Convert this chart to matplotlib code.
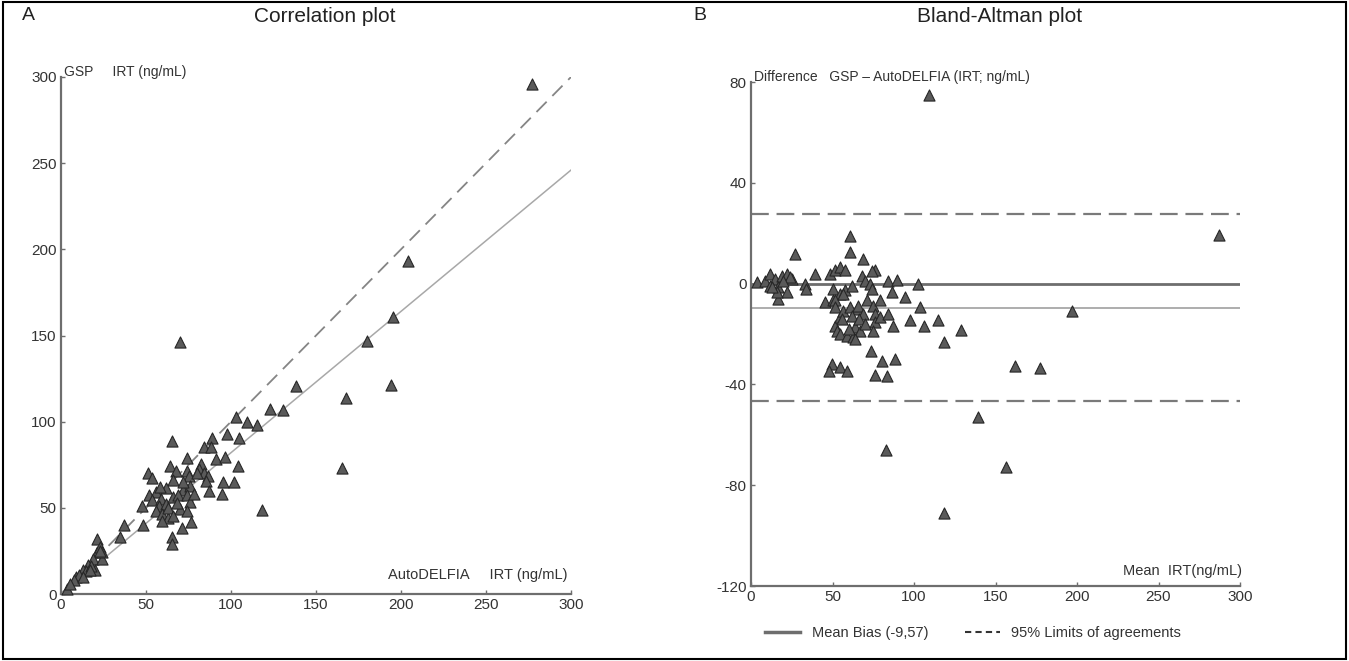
import matplotlib
matplotlib.use('Agg')
import matplotlib.pyplot as plt
from matplotlib.lines import Line2D
from matplotlib.patches import Rectangle

plt.rcParams['font.family'] = ['Liberation Sans Narrow', 'Liberation Sans', 'DejaVu Sans']
plt.rcParams['axes.unicode_minus'] = False

# Panel A: AutoDELFIA vs GSP IRT (ng/mL)
auto_irt = [277, 204, 195, 180, 138.5, 167.7, 194, 123, 130.7, 165, 118, 70,
            103.1, 109.2, 115.4, 65.3, 88.8, 97.6, 104.7, 84.3, 88.4, 74, 91, 96.5,
            64.2, 82.2, 104.3, 67.9, 74, 81.2, 84.3, 86.3, 85.3, 95.5, 102, 51.2,
            53.6, 75.1, 65.9, 55.6, 61.8, 72, 76.1, 87.3, 94.5, 47.5, 51.6, 53.6,
            58.7, 57.7, 61.8, 65.9, 68.9, 74, 76.1, 69.9, 74, 55.6, 59.7, 62.8,
            59.7, 48.5, 71, 76.5, 65.3, 65.3, 37.3, 34.8, 20.9, 20.9, 22.9, 18.8,
            15.8, 12.7, 8.6, 3.5, 14.8, 19.9, 10.7, 17.8, 23.9, 23.9, 7.6, 5.5,
            16.8, 12.7, 22.9, 58, 63, 66, 72, 80, 78, 68]
gsp_irt = [296, 193, 161, 147, 120.7, 113.6, 121, 107.6, 106.6, 73, 49, 146,
           102.6, 99.6, 98.2, 88.9, 90.5, 92.6, 90.5, 85.5, 85.5, 78.9, 78.5, 79.5,
           74.4, 75.5, 74, 71.4, 71.4, 72.4, 70.4, 68.4, 65.4, 64.8, 64.8, 70.4,
           67.4, 68.4, 66.4, 59.4, 61.4, 60.4, 62.4, 60, 57.9, 51.3, 57.3, 54.3,
           55.3, 51.3, 52.3, 56.3, 57.3, 57.3, 53.3, 49.3, 48.3, 48.3, 46.3, 44.3,
           42.3, 40.2, 38.2, 41.9, 33.2, 29.2, 40.2, 33.2, 32.2, 24.1, 27.2, 20.1,
           17.1, 14.1, 10.1, 3, 13.1, 14.1, 11.1, 16.1, 20.1, 24.1, 8, 6,
           14.1, 10, 25.1, 62, 50, 45, 65, 70, 58, 53]
identity_end = 300
regression_slope = 0.82

# Panel B: Bland-Altman, mean vs difference
ba_mean = [3.5, 8.6, 11.7, 14.7, 18.8, 21.9, 25, 11.7, 16.8, 21.9, 16.8, 15.7,
           12.7, 23.9, 19.8, 27, 33, 34, 39, 45.4, 48.5, 51.5, 54.6, 57.7, 60.7,
           60.7, 68.9, 76, 50.5, 54.6, 50.5, 57.7, 61.8, 67.9, 70, 74, 73, 74,
           84.2, 89.4, 86.3, 94.5, 102.6, 103.7, 51.5, 56.6, 51.5, 51.5, 52.6, 54.6,
           54.6, 56.6, 60.7, 64.8, 65.8, 68.9, 58.7, 62.8, 63.8, 66.9, 71, 75,
           79.1, 76, 76, 75, 79.1, 84.2, 87.3, 97.5, 106, 115, 118.4, 128.6,
           73.4, 80.2, 88.3, 76, 83.2, 49.5, 48, 54.6, 59.1, 162, 177, 139.5,
           82.8, 118.4, 156.4, 197, 287, 109, 56, 62, 60, 66, 70, 64]
ba_diff = [0.5, 1.2, 3.8, 1.8, 3.2, 3.8, 1.9, -0.8, -1.5, -3.4, -6.3, -3.4,
           -1.5, 2.5, 1.0, 11.8, -0.1, -2.1, 3.8, -7.4, 3.8, 5.2, 6.5, 5.2, 19,
           12.4, 9.8, 5.2, -2.1, -4.1, -6.6, -2.6, -0.8, 3.2, 1.2, 5, -0.1, -2.1,
           0.9, 1.5, -3.4, -5.4, -0.1, -9.1, -6.7, -4.1, -9.4, -16.7, -18.7, -13.4,
           -20, -10.7, -9.4, -10, -8.7, -12, -20.6, -21.3, -17.3, -18.7, -6.7, -8.7,
           -6.7, -12, -15.3, -18.7, -13.4, -12, -16.7, -14.4, -16.7, -14.4, -23.3, -18.3,
           -26.6, -30.6, -29.9, -36.1, -36.5, -31.9, -34.8, -32.9, -34.8, -32.5, -33.5, -53,
           -66, -90.9, -72.6, -11, 19.4, 75, -14, -13, -18, -14, -16, -22]
mean_bias = -9.57
loa_upper = 27.6
loa_lower = -46.7

W, H = 1349, 661
fig = plt.figure(figsize=(W / 100, H / 100), dpi=100)
fig.patch.set_facecolor('white')

def px_axes(x0, x1, y_top, y_bot):
    return fig.add_axes([x0 / W, 1 - y_bot / H, (x1 - x0) / W, (y_bot - y_top) / H])

ax1 = px_axes(61, 571, 77, 594)
ax2 = px_axes(751, 1240, 82, 586)

spine_col = '#6e6e6e'
for ax in (ax1, ax2):
    for s in ('top', 'right'):
        ax.spines[s].set_visible(False)
    for s in ('left', 'bottom'):
        ax.spines[s].set_color(spine_col)
        ax.spines[s].set_linewidth(1.6)
    ax.tick_params(direction='in', length=3, width=1, color=spine_col,
                   labelsize=11, labelcolor='#333333', pad=3)
    ax.patch.set_alpha(0)

tri = dict(marker='^', s=64, facecolor='#5a5a5a', edgecolor='#262626',
           linewidth=0.8, zorder=3, clip_on=False)

# A: correlation
ax1.plot([0, identity_end], [0, identity_end], color='#858585', lw=1.3,
         linestyle=(0, (8, 4.5)), zorder=2)
ax1.plot([0, 300], [0, 300 * regression_slope], color='#a8a8a8', lw=1.1, zorder=2)
ax1.scatter(auto_irt, gsp_irt, **tri)
ax1.set_xlim(0, 300)
ax1.set_ylim(0, 300)
ax1.set_xticks([0, 50, 100, 150, 200, 250, 300])
ax1.set_yticks([0, 50, 100, 150, 200, 250, 300])
ax1.text(2, 303, 'GSP     IRT (ng/mL)', fontsize=10, color='#333333',
         ha='left', va='center')
ax1.text(298, 7, 'AutoDELFIA     IRT (ng/mL)', fontsize=10.5, color='#333333',
         ha='right', va='bottom')

# B: Bland-Altman
ax2.axhline(0, color='#6e6e6e', lw=2, zorder=2)
ax2.axhline(mean_bias, color='#a0a0a0', lw=1.2, zorder=2)
for v in (loa_upper, loa_lower):
    ax2.axhline(v, color='#7a7a7a', lw=1.6, linestyle=(0, (8, 3.5)), zorder=2)
ax2.scatter(ba_mean, ba_diff, **tri)
ax2.set_xlim(0, 300)
ax2.set_ylim(-120, 80)
ax2.set_xticks([0, 50, 100, 150, 200, 250, 300])
ax2.set_yticks([-120, -80, -40, 0, 40, 80])
ax2.text(2, 82, 'Difference   GSP \u2013 AutoDELFIA (IRT; ng/mL)', fontsize=10,
         color='#333333', ha='left', va='center')
ax2.text(301, -117, 'Mean  IRT(ng/mL)', fontsize=10.5, color='#333333',
         ha='right', va='bottom', clip_on=False)

# panel letters and titles
fig.text(22 / W, 1 - 16 / H, 'A', fontsize=14, color='#222222', va='center', ha='left')
fig.text(325 / W, 1 - 16 / H, 'Correlation plot', fontsize=15, color='#222222',
         va='center', ha='center')
fig.text(693 / W, 1 - 16 / H, 'B', fontsize=14, color='#222222', va='center', ha='left')
fig.text(1000 / W, 1 - 16 / H, 'Bland-Altman plot', fontsize=15, color='#222222',
         va='center', ha='center')

# legend under panel B
handles = [Line2D([0], [0], color='#6e6e6e', lw=2.5),
           Line2D([0], [0], color='#333333', lw=1.5, linestyle=(0, (3, 2)))]
fig.legend(handles, ['Mean Bias (-9,57)', '95% Limits of agreements'],
           loc='center left', bbox_to_anchor=(752 / W, 1 - 633 / H), ncol=2,
           frameon=False, fontsize=10.5, handlelength=2.4, columnspacing=2.5,
           labelcolor='#333333')

# outer frame
fig.patches.append(Rectangle((0.002, 0.003), 0.996, 0.994, transform=fig.transFigure,
                             fill=False, edgecolor='black', linewidth=1.5))

fig.savefig('out.png', dpi=100, facecolor='white')
